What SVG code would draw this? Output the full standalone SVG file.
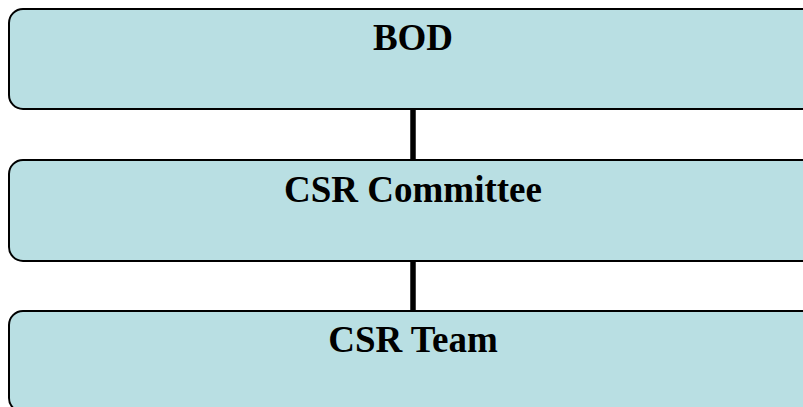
<svg xmlns="http://www.w3.org/2000/svg" width="803" height="407" viewBox="0 0 803 407">
<style>
.box{fill:#b9dfe3;stroke:#000;stroke-width:2}
.lbl{font-family:"Liberation Serif","Times New Roman",serif;font-weight:bold;font-size:37px;fill:#000;text-anchor:middle}
.conn{stroke:#000;stroke-width:5.5;fill:none}
</style>
<rect width="803" height="407" fill="#fff"/>
<g id="connectors">
<line class="conn" x1="413" y1="109" x2="413" y2="161"/>
<line class="conn" x1="413" y1="260" x2="413" y2="312"/>
</g>
<g id="bod">
<rect class="box" x="9" y="9" width="808" height="100" rx="14"/>
<text class="lbl" x="413" y="50">BOD</text>
</g>
<g id="csr-committee">
<rect class="box" x="9" y="160" width="808" height="101" rx="14"/>
<text class="lbl" x="413" y="202">CSR Committee</text>
</g>
<g id="csr-team">
<rect class="box" x="9" y="311" width="808" height="101" rx="14"/>
<text class="lbl" x="413" y="352">CSR Team</text>
</g>
</svg>
